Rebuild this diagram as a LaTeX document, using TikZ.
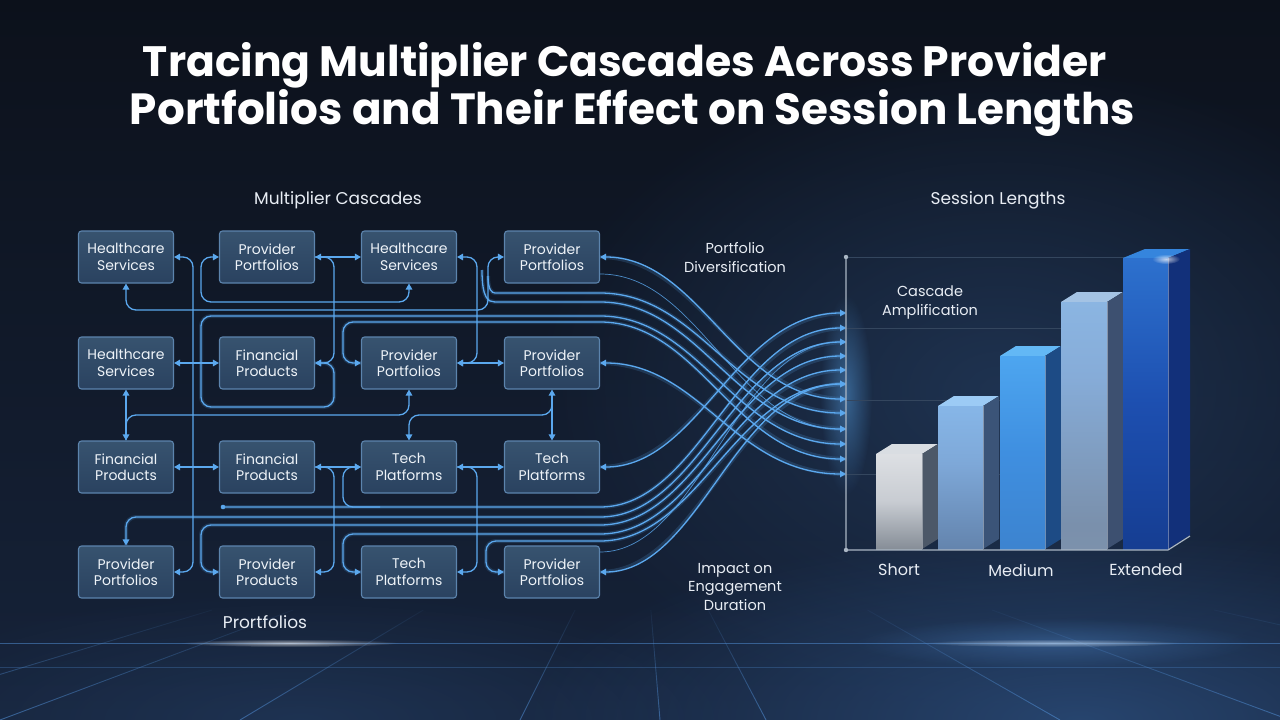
\documentclass[tikz,border=0pt]{standalone}
\usepackage{fontspec}
\usepackage{graphicx}
\setmainfont{Poppins}
\usetikzlibrary{arrows.meta,fadings}
\tikzfading[name=softglow, inner color=transparent!0, outer color=transparent!100]
\tikzfading[name=fadeup, top color=transparent!90, bottom color=transparent!0]
\definecolor{bgA}{HTML}{0C111B}
\definecolor{bgB}{HTML}{16233A}
\definecolor{glowR}{HTML}{22395A}
\definecolor{floorc}{HTML}{2D5080}
\definecolor{gridc}{HTML}{4F8BD0}
\definecolor{linkc}{HTML}{5BA8EE}
\definecolor{boxline}{HTML}{5C84AD}
\definecolor{boxtop}{HTML}{37536F}
\definecolor{boxbot}{HTML}{2A4260}
\definecolor{boxtext}{HTML}{EEF3F8}
\definecolor{labelc}{HTML}{E8EDF4}
\definecolor{axisc}{HTML}{AAB6C4}
\definecolor{chartgrid}{HTML}{34465E}
% bar colours
\definecolor{a0}{HTML}{B8BCC2}\definecolor{a1}{HTML}{7E8690}\definecolor{a2}{HTML}{C8CCD2}\definecolor{a3}{HTML}{F2F3F5}
\definecolor{b0}{HTML}{7F97B6}\definecolor{b1}{HTML}{5F7EA6}\definecolor{b2}{HTML}{7EA8D8}\definecolor{b3}{HTML}{91C8FB}
\definecolor{c0}{HTML}{3A78BF}\definecolor{c1}{HTML}{3F8FE0}\definecolor{c2}{HTML}{5BBCFF}
\definecolor{d0}{HTML}{8596AD}\definecolor{d1}{HTML}{7A90AC}\definecolor{d2}{HTML}{86ACD8}\definecolor{d3}{HTML}{93C4F2}
\definecolor{e0}{HTML}{0E2C74}\definecolor{e1}{HTML}{1D4FB0}\definecolor{e2}{HTML}{3D93EC}
\definecolor{sideA}{HTML}{4C5868}\definecolor{sideB}{HTML}{3B5478}\definecolor{sideC}{HTML}{1D4B85}
\definecolor{sideD}{HTML}{3D5070}\definecolor{sideE}{HTML}{12307A}
\definecolor{topA}{HTML}{D9DDE2}\definecolor{topB}{HTML}{9CCBF5}\definecolor{topC}{HTML}{63B8F5}
\definecolor{topD}{HTML}{A4C3E4}\definecolor{topE}{HTML}{3585DD}
\pgfdeclareverticalshading{barAsh}{100bp}{color(0bp)=(a0); color(22bp)=(a1); color(50bp)=(a2); color(100bp)=(a3)}
\pgfdeclareverticalshading{barBsh}{100bp}{color(0bp)=(b0); color(20bp)=(b1); color(55bp)=(b2); color(100bp)=(b3)}
\pgfdeclareverticalshading{barCsh}{100bp}{color(0bp)=(c0); color(50bp)=(c1); color(100bp)=(c2)}
\pgfdeclareverticalshading{barDsh}{100bp}{color(0bp)=(d0); color(30bp)=(d1); color(60bp)=(d2); color(100bp)=(d3)}
\pgfdeclareverticalshading{barEsh}{100bp}{color(0bp)=(e0); color(50bp)=(e1); color(100bp)=(e2)}
\tikzset{
  box/.style={draw=boxline, line width=1.1pt, rounded corners=3pt, top color=boxtop, bottom color=boxbot,
    minimum width=95pt, minimum height=52pt, text=boxtext, font=\fontsize{14}{16.5}\selectfont, align=center, inner sep=2pt},
  link/.style={draw=linkc, line width=1.3pt, rounded corners=10pt},
  thinlink/.style={draw=linkc, line width=0.7pt, draw opacity=0.8},
  glow/.style={preaction={-, draw=linkc, line width=4pt, draw opacity=0.18}},
  lbl/.style={text=labelc, align=center},
  >={Triangle[length=6pt,width=6.5pt]}
}
\begin{document}
\begin{tikzpicture}[x=1pt,y=-1pt]
\useasboundingbox (0,0) rectangle (1280,720);
% background
\shade[top color=bgA, bottom color=bgB] (0,0) rectangle (1280,720);
\fill[glowR, path fading=softglow, opacity=0.8] (1000,390) ellipse (470 and 330);
\fill[floorc, path fading=softglow, opacity=0.75] (1080,720) ellipse (560 and 190);
\fill[floorc, path fading=softglow, opacity=0.35] (300,720) ellipse (450 and 130);
\foreach \bx in {-600,-150,0,240,520,660,766,1060,1290,1700,2300} {
  \pgfmathsetmacro{\sx}{640+(\bx-640)/240*130}
  \draw[gridc, line width=0.9pt, opacity=0.6, path fading=fadeup] (\sx,610) -- (\bx,720);
}
\draw[gridc, line width=0.8pt, opacity=0.55] (0,643) -- (1280,643);
\draw[gridc, line width=0.6pt, opacity=0.3] (0,667) -- (1280,667);
\fill[white, path fading=softglow, opacity=0.6] (290,643) ellipse (110 and 4);
\fill[white, path fading=softglow, opacity=0.6] (1053,643) ellipse (130 and 4);
\fill[gridc, path fading=softglow, opacity=0.35] (1053,643) ellipse (200 and 25);

% title
\node[anchor=base, text=white, font=\bfseries\fontsize{40}{48}\selectfont] (title1) at (625,76)
  {\resizebox{964pt}{!}{Tracing Multiplier Cascades Across Provider}};
\node[anchor=base, text=white, font=\bfseries\fontsize{40}{48}\selectfont] (title2) at (632.5,124)
  {\resizebox{1005pt}{!}{Portfolios and Their Effect on Session Lengths}};

% section labels
\node[lbl, font=\fontsize{17}{20}\selectfont] (lmc) at (338,200) {Multiplier Cascades};
\node[lbl, font=\fontsize{17}{20}\selectfont] (lsl) at (998,200) {Session Lengths};
\node[lbl, font=\fontsize{17}{20}\selectfont] (lpf) at (265,622) {Prortfolios};
\node[lbl, font=\fontsize{14.5}{19}\selectfont] (lpd) at (735,258) {Portfolio\\Diversification};
\node[lbl, font=\fontsize{14.5}{19}\selectfont] (lca) at (930,303) {Cascade\\Amplification};
\node[lbl, font=\fontsize{14.5}{18.5}\selectfont] (lie) at (735,587) {Impact on\\Engagement\\Duration};

% boxes
\node[box] (b11) at (126,257) {Healthcare\\Services};
\node[box] (b12) at (267,257) {Provider\\Portfolios};
\node[box] (b13) at (409,257) {Healthcare\\Services};
\node[box] (b14) at (552,257) {Provider\\Portfolios};
\node[box] (b21) at (126,363) {Healthcare\\Services};
\node[box] (b22) at (267,363) {Financial\\Products};
\node[box] (b23) at (409,363) {Provider\\Portfolios};
\node[box] (b24) at (552,363) {Provider\\Portfolios};
\node[box] (b31) at (126,467) {Financial\\Products};
\node[box] (b32) at (267,467) {Financial\\Products};
\node[box] (b33) at (409,467) {Tech\\Platforms};
\node[box] (b34) at (552,467) {Tech\\Platforms};
\node[box] (b41) at (126,572) {Provider\\Portfolios};
\node[box] (b42) at (267,572) {Provider\\Products};
\node[box] (b43) at (409,572) {Tech\\Platforms};
\node[box] (b44) at (552,572) {Provider\\Portfolios};

% fan targets
\coordinate (t1) at (846,313); \coordinate (t2) at (846,328); \coordinate (t3) at (846,342);
\coordinate (t4) at (846,356); \coordinate (t5) at (846,370); \coordinate (t6) at (846,384);
\coordinate (t7) at (846,399); \coordinate (t8) at (846,413); \coordinate (t9) at (846,429);
\coordinate (t10) at (846,444); \coordinate (t11) at (846,459); \coordinate (t12) at (846,474);

% grid connectors
\draw[link,<->] (b11.east) -- (193,257) -- (193,572) -- (b41.east);
\draw[link,<->] (b12.west) -- (201,257) -- (201,302) -- (409,302) -- (b13.south);
\draw[link,<->] (b12.east) -- (b13.west);
\draw[link,->] (b12.east) -- (334,257) -- (334,363) -- (b22.east);
\draw[link,<->] (b13.east) -- (477,257) -- (477,363) -- (b23.east);
\draw[link,<->] (b11.south) -- (126,310) -- (488,310) -- (488,257) -- (b14.west);
\draw[link,<->] (b21.east) -- (b22.west);
\draw[link,<->] (b23.east) -- (b24.west);
\draw[link,<->] (b21.south) -- (b31.north);
\draw[link,<->] (b24.south) -- (b34.north);
\draw[link,->] (126,440) -- (126,415) -- (409,415) -- (b23.south);
\draw[link,->] (552,398) -- (552,415) -- (409,415) -- (b33.north);
\draw[link,<->] (b31.east) -- (b32.west);
\draw[link,<->] (b32.east) -- (b33.west);
\draw[link,<->] (b33.east) -- (b34.west);
\draw[link,->] (b32.east) -- (334,467) -- (334,572) -- (b42.east);
\draw[link,->] (b33.east) -- (477,467) -- (477,572) -- (b43.east);
\draw[link,<-] (b33.west) -- (343,467) -- (343,507) -- (380,507);

% fan lines from the top
\draw[link,glow,<->] (b14.east) .. controls (700,257) and (735,399) .. (t7);
\draw[thinlink,->] ([yshift=-17pt]b14.east) .. controls (700,274) and (735,429) .. (t9);
\draw[link,glow,->] (488,276) .. controls (488,290) and (492,293) .. (505,293) -- (590,293) .. controls (700,293) and (735,413) .. (t8);
\draw[link,glow,->] (482,270) .. controls (482,298) and (488,302) .. (505,302) -- (590,302) .. controls (700,302) and (735,429) .. (t9);
\draw[link,glow,<->] (b22.east) -- (334,363) -- (334,407) -- (201,407) -- (201,316) -- (590,316) .. controls (700,316) and (735,444) .. (t10);
\draw[link,glow,<->] (b23.west) -- (343,363) -- (343,322) -- (590,322) .. controls (700,322) and (735,459) .. (t11);
\draw[link,glow,<->] (b24.east) .. controls (700,363) and (735,474) .. (t12);

% fan lines from the bottom
\fill[linkc] (223,507) circle (2.3);
\draw[link,glow,->] (223,507) -- (590,507) .. controls (700,507) and (735,328) .. (t2);
\draw[link,glow,<->] (b34.east) .. controls (700,467) and (735,313) .. (t1);
\draw[link,glow,<->] (b41.north) -- (126,517) -- (590,517) .. controls (700,517) and (735,342) .. (t3);
\draw[link,glow,<->] (b42.west) -- (201,572) -- (201,525) -- (590,525) .. controls (700,525) and (735,356) .. (t4);
\draw[link,glow,<->] (b43.west) -- (343,572) -- (343,534) -- (590,534) .. controls (700,534) and (735,370) .. (t5);
\draw[link,glow,<->] (b44.west) -- (486,572) -- (486,541) -- (590,541) .. controls (700,541) and (735,384) .. (t6);
\draw[thinlink,->] ([yshift=20pt]b44.east) .. controls (700,552) and (735,342) .. (t3);
\draw[link,glow,<->] (b44.east) .. controls (700,572) and (735,384) .. (t6);

% chart
\fill[linkc, path fading=softglow, opacity=0.45] (846,395) ellipse (26 and 100);
\foreach \gy in {257,328,400,474}
  \draw[chartgrid, line width=0.8pt] (846,\gy) -- (1168,\gy);
% bar 1
\fill[topA] (876,454) -- (892,444) -- (938,444) -- (922,454) -- cycle;
\fill[sideA] (922,454) -- (938,444) -- (938,539) -- (922,549) -- cycle;
\shade[shading=barAsh] (876,454) rectangle (922,549);
% bar 2
\fill[topB] (938,406) -- (954,396) -- (999,396) -- (983,406) -- cycle;
\fill[sideB] (983,406) -- (999,396) -- (999,539) -- (983,549) -- cycle;
\shade[shading=barBsh] (938,406) rectangle (983,549);
% bar 3
\fill[topC] (1000,356) -- (1016,346) -- (1061,346) -- (1045,356) -- cycle;
\fill[sideC] (1045,356) -- (1061,346) -- (1061,539) -- (1045,549) -- cycle;
\shade[shading=barCsh] (1000,356) rectangle (1045,549);
% bar 4
\fill[topD] (1061,302) -- (1077,292) -- (1123,292) -- (1107,302) -- cycle;
\fill[sideD] (1107,302) -- (1123,292) -- (1123,539) -- (1107,549) -- cycle;
\shade[shading=barDsh] (1061,302) rectangle (1107,549);
% bar 5
\fill[topE] (1123,258) -- (1145,249) -- (1190,249) -- (1168,258) -- cycle;
\fill[sideE] (1168,258) -- (1190,249) -- (1190,535) -- (1168,549) -- cycle;
\shade[shading=barEsh] (1123,258) rectangle (1168,549);
\foreach \ex/\ty in {922/454,983/406,1045/356,1107/302,1168/258}
  \draw[white, opacity=0.35, line width=0.6pt] (\ex,\ty) -- (\ex,549);
\fill[white, path fading=softglow, opacity=0.7] (1166,259) ellipse (14 and 5);
% axes
\draw[axisc, line width=1.2pt] (846,257) -- (846,550) -- (1168,550) -- (1190,536);
\fill[axisc] (846,257) circle (2.2);
\fill[axisc] (846,550) circle (2.2);
\node[lbl, font=\fontsize{16}{19}\selectfont] (xs) at (899,570) {Short};
\node[lbl, font=\fontsize{16}{19}\selectfont] (xm) at (1021,570) {Medium};
\node[lbl, font=\fontsize{16}{19}\selectfont] (xe) at (1146,570) {Extended};
\end{tikzpicture}
\end{document}
